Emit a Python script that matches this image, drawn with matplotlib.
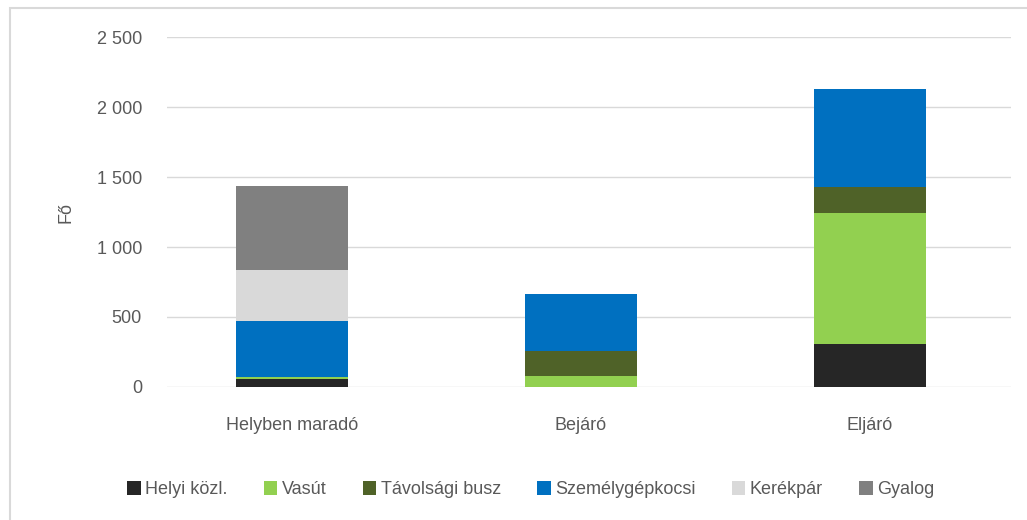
import numpy as np
import matplotlib.pyplot as plt
from matplotlib.ticker import FuncFormatter
from matplotlib.patches import Rectangle

categories = ['Helyben maradó', 'Bejáró', 'Eljáró']
modes = ['Helyi közl.', 'Vasút', 'Távolsági busz', 'Személygépkocsi', 'Kerékpár', 'Gyalog']
helyi = [57, 0, 305]
vasut = [17, 81, 937]
tavolsagi = [0, 176, 186]
szgk = [398, 406, 701]
kerekpar = [365, 0, 0]
gyalog = [600, 0, 0]
series = [helyi, vasut, tavolsagi, szgk, kerekpar, gyalog]
colors = ['#262626', '#92d050', '#4f6228', '#0070c0', '#d9d9d9', '#808080']

plt.rcParams['font.family'] = ['Liberation Sans', 'DejaVu Sans']
grey = '#595959'

fig = plt.figure(figsize=(10.27, 5.2), dpi=100)
ax = fig.add_axes([0.1626, 0.256, 0.8218, 0.672])

x = np.arange(len(categories))
bottom = np.zeros(len(categories))
for name, vals, col in zip(modes, series, colors):
    ax.bar(x, vals, 0.39, bottom=bottom, color=col, label=name, zorder=3)
    bottom += np.array(vals)

ax.set_ylim(0, 2500)
ax.set_xlim(-0.433, 2.488)
ax.set_yticks(np.arange(0, 2501, 500))
ax.yaxis.set_major_formatter(FuncFormatter(lambda v, p: f'{int(v):,}'.replace(',', ' ')))
ax.set_xticks(x)
ax.set_xticklabels(categories)
ax.grid(axis='y', color='#d9d9d9', linewidth=1, zorder=0)
for s in ax.spines.values():
    s.set_visible(False)
ax.tick_params(length=0, labelsize=13, colors=grey)
ax.tick_params(axis='y', pad=18)
ax.tick_params(axis='x', pad=22)
ax.set_ylabel('Fő', fontsize=13, color=grey, labelpad=16)

fig.legend(loc='center', bbox_to_anchor=(0.517, 0.058), ncol=6, frameon=False,
           fontsize=13, handlelength=0.75, handleheight=0.75, handletextpad=0.25,
           columnspacing=2.0, labelcolor=grey)

fig.patches.append(Rectangle((0.0097, -0.1), 1.2, 1.085, transform=fig.transFigure,
                             fill=False, edgecolor='#d9d9d9', linewidth=1.5))

fig.savefig('out.png', dpi=100)
